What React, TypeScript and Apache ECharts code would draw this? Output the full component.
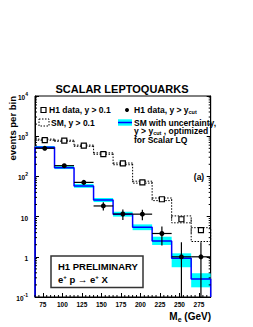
import React, { useEffect, useRef } from 'react';
import * as echarts from 'echarts';

// ---- data ----
const binEdges = [65, 90, 115, 140, 165, 190, 215, 240, 265, 290];
const binCenters = [77.5, 102.5, 127.5, 152.5, 177.5, 202.5, 227.5, 252.5, 277.5];
// H1 data, y > 0.1 (open squares)
const dataAll = [800, 780, 580, 360, 212, 71, 27, 8.6, 4.6];
// SM, y > 0.1 (dotted boxes)
const smAll = [820, 770, 580, 370, 205, 72, 27, 8.5, 3.6];
const smAllLo = [795, 745, 560, 355, 195, 68, 25, 7.0, 2.4];
const smAllHi = [845, 795, 600, 385, 215, 76, 29, 10.4, 5.3];
// H1 data, y > ycut (filled circles)
const dataCut = [500, 185, 71, 18.4, 11.6, 11.5, 3.8, 1, 1];
const dataCutLo = [478, 171, 63, 14.1, 8.2, 8.1, 1.9, 0.02, 0.02];
const dataCutHi = [522, 199, 79.5, 22.7, 15, 14.9, 5.7, 2.3, 2.3];
// SM with uncertainty, y > ycut (blue line, cyan band)
const smCut = [530, 165, 58, 26, 11.5, 5.4, 2.47, 0.92, 0.28];
const smCutLo = [490, 152, 52, 23, 10, 4.6, 1.97, 0.55, 0.174];
const smCutHi = [570, 180, 65, 29, 13.2, 6.4, 3.16, 1.22, 0.39];
// axis ticks
const xTickLabels = [75, 100, 125, 150, 175, 200, 225, 250, 275];
const xMinorTicks = [65, 70, 80, 85, 90, 95, 105, 110, 115, 120, 130, 135, 140, 145, 155, 160, 165, 170, 180, 185, 190, 195, 205, 210, 215, 220, 230, 235, 240, 245, 255, 260, 265, 270, 280, 285];
const yDecades = [0.1, 1, 10, 100, 1000, 10000];
const yMinorMantissa = [2, 3, 4, 5, 6, 7, 8, 9];

const FONT = '"Liberation Sans", Arial, Helvetica, sans-serif';
const X_MIN = 65;
const X_MAX = 290;
const Y_MIN = 0.1;
const Y_MAX = 10000;

export default function App() {
  const ref = useRef<HTMLDivElement>(null);
  useEffect(() => {
    const chart = echarts.init(ref.current!, null, { renderer: 'svg' });

    const stepPts: number[][] = [[binEdges[0], Y_MIN]];
    smCut.forEach((v, i) => {
      stepPts.push([binEdges[i], v]);
      stepPts.push([binEdges[i + 1], v]);
    });
    stepPts.push([binEdges[binEdges.length - 1], Y_MIN]);

    const yMinor: number[] = [];
    yDecades.slice(0, -1).forEach((d) => yMinorMantissa.forEach((m) => yMinor.push(d * m)));

    const ylabel = (v: number) => {
      const e = Math.round(Math.log10(v));
      if (e === 0) return '{b|1}';
      if (e === 1) return '{b|10}';
      return `{b|10}{s|${e}}`;
    };

    const sub = { fontSize: 5.5, fontWeight: 'bold', fontFamily: FONT, verticalAlign: 'bottom', lineHeight: 9 };
    const main = { fontSize: 8.5, fontWeight: 'bold', fontFamily: FONT, lineHeight: 9 };

    const option: any = {
      animation: false,
      backgroundColor: '#fff',
      grid: { left: 35, right: 42.3, top: 96, bottom: 30, show: true, borderColor: '#000', borderWidth: 1 },
      xAxis: {
        type: 'value', min: X_MIN, max: X_MAX,
        axisLine: { show: true, lineStyle: { color: '#000', width: 1 } },
        axisTick: { show: true, inside: true, length: 4, customValues: xTickLabels, lineStyle: { color: '#000' } },
        axisLabel: { customValues: xTickLabels, fontSize: 6.5, fontWeight: 'bold', fontFamily: FONT, color: '#000', margin: 4 },
        splitLine: { show: false },
      },
      yAxis: [
        {
          type: 'log', logBase: 10, min: Y_MIN, max: Y_MAX, position: 'left',
          axisLine: { show: true, lineStyle: { color: '#000', width: 1 } },
          axisTick: { show: true, inside: true, length: 4, lineStyle: { color: '#000' } },
          axisLabel: {
            formatter: ylabel, margin: 7, color: '#000',
            rich: {
              b: { fontSize: 6.5, fontWeight: 'bold', fontFamily: FONT, lineHeight: 10, verticalAlign: 'bottom', color: '#000' },
              s: { fontSize: 5, fontWeight: 'bold', fontFamily: FONT, lineHeight: 10, verticalAlign: 'top', color: '#000' },
            },
          },
          splitLine: { show: false },
        },
        {
          type: 'log', logBase: 10, min: Y_MIN, max: Y_MAX, position: 'right',
          axisLine: { show: true, lineStyle: { color: '#000', width: 1 } },
          axisTick: { show: true, inside: true, length: 4, lineStyle: { color: '#000' } },
          axisLabel: { show: false },
          splitLine: { show: false },
        },
      ],
      series: [
        {
          type: 'custom', name: 'smCutBand', z: 2, silent: true,
          data: binCenters.map((c, i) => [c, smCut[i]]),
          encode: { x: 0, y: 1 },
          renderItem: (params: any, api: any) => {
            const i = params.dataIndex;
            const p0 = api.coord([binEdges[i], smCutHi[i]]);
            const p1 = api.coord([binEdges[i + 1], Math.max(smCutLo[i], Y_MIN)]);
            return { type: 'rect', shape: { x: p0[0], y: p0[1], width: p1[0] - p0[0], height: p1[1] - p0[1] }, style: { fill: '#00ffff' } };
          },
        },
        {
          type: 'line', name: 'smCut', z: 3, silent: true, symbol: 'none',
          data: stepPts,
          lineStyle: { color: '#0000ff', width: 1.5 },
        },
        {
          type: 'custom', name: 'smAll', z: 4, silent: true,
          data: binCenters.map((c, i) => [c, smAll[i]]),
          encode: { x: 0, y: 1 },
          renderItem: (params: any, api: any) => {
            const i = params.dataIndex;
            const p0 = api.coord([binEdges[i], smAllHi[i]]);
            const p1 = api.coord([binEdges[i + 1], smAllLo[i]]);
            const st = { fill: 'none', stroke: '#000', lineWidth: 1, lineDash: [1.5, 1.5] };
            const children: any[] = [
              { type: 'rect', shape: { x: p0[0], y: p0[1], width: p1[0] - p0[0], height: p1[1] - p0[1] }, style: st },
            ];
            if (i > 0) {
              const a = api.coord([binEdges[i], smAll[i - 1]]);
              const b = api.coord([binEdges[i], smAll[i]]);
              children.push({ type: 'line', shape: { x1: a[0], y1: a[1], x2: b[0], y2: b[1] }, style: st });
            }
            return { type: 'group', children };
          },
        },
        {
          type: 'custom', name: 'errCut', z: 5, silent: true,
          data: binCenters.map((c, i) => [c, dataCut[i]]),
          encode: { x: 0, y: 1 },
          renderItem: (params: any, api: any) => {
            const i = params.dataIndex;
            const l = api.coord([binEdges[i], dataCut[i]]);
            const r = api.coord([binEdges[i + 1], dataCut[i]]);
            const hi = api.coord([binCenters[i], dataCutHi[i]]);
            const lo = api.coord([binCenters[i], Math.max(dataCutLo[i], Y_MIN)]);
            const st = { stroke: '#000', lineWidth: 1.2 };
            return {
              type: 'group',
              children: [
                { type: 'line', shape: { x1: l[0], y1: l[1], x2: r[0], y2: r[1] }, style: st },
                { type: 'line', shape: { x1: hi[0], y1: hi[1], x2: lo[0], y2: lo[1] }, style: st },
              ],
            };
          },
        },
        {
          type: 'scatter', name: 'dataAll', z: 6, silent: true,
          data: binCenters.map((c, i) => [c, dataAll[i]]),
          symbol: 'rect', symbolSize: 5,
          itemStyle: { color: '#fff', borderColor: '#000', borderWidth: 1.2, opacity: 1 },
        },
        {
          type: 'scatter', name: 'dataCut', z: 6, silent: true,
          data: binCenters.map((c, i) => [c, dataCut[i]]),
          symbol: 'circle', symbolSize: 5,
          itemStyle: { color: '#000', opacity: 1 },
        },
        {
          type: 'custom', name: 'yMinorTicks', z: 7, silent: true,
          data: yMinor.map((v) => [X_MIN, v]),
          encode: { x: 0, y: 1 },
          renderItem: (params: any, api: any) => {
            const v = api.value(1);
            const pl = api.coord([X_MIN, v]);
            const pr = api.coord([X_MAX, v]);
            const st = { stroke: '#000', lineWidth: 1 };
            return {
              type: 'group',
              children: [
                { type: 'line', shape: { x1: pl[0], y1: pl[1], x2: pl[0] + 2, y2: pl[1] }, style: st },
                { type: 'line', shape: { x1: pr[0] - 2, y1: pr[1], x2: pr[0], y2: pr[1] }, style: st },
              ],
            };
          },
        },
        {
          type: 'custom', name: 'xMinorTicks', z: 7, silent: true,
          data: xMinorTicks.map((x) => [x, Y_MIN]),
          encode: { x: 0, y: 1 },
          renderItem: (params: any, api: any) => {
            const p = api.coord([api.value(0), Y_MIN]);
            return { type: 'line', shape: { x1: p[0], y1: p[1], x2: p[0], y2: p[1] - 2 }, style: { stroke: '#000', lineWidth: 1 } };
          },
        },
      ],
      graphic: [
        { type: 'text', x: 122, y: 89, style: { text: 'SCALAR LEPTOQUARKS', fontSize: 11, fontWeight: 'bold', fontFamily: FONT, fill: '#000', align: 'center', verticalAlign: 'middle' } },
        { type: 'text', x: 12, y: 96, rotation: Math.PI / 2, style: { text: 'events per bin', fontSize: 9.5, fontWeight: 'bold', fontFamily: FONT, fill: '#000', align: 'right', verticalAlign: 'middle' } },
        { type: 'text', x: 211, y: 316, style: { text: 'M{s|e} (GeV)', fontSize: 10, fontWeight: 'bold', fontFamily: FONT, fill: '#000', align: 'right', verticalAlign: 'middle', rich: { s: { fontSize: 7, fontWeight: 'bold', fontFamily: FONT, verticalAlign: 'bottom', lineHeight: 14 } } } },
        // legend left column
        { type: 'rect', shape: { x: 41, y: 107.5, width: 5, height: 5 }, style: { fill: '#fff', stroke: '#000', lineWidth: 1.2 } },
        { type: 'text', x: 49, y: 110, style: { text: 'H1 data, y > 0.1', fontSize: 8.5, fontWeight: 'bold', fontFamily: FONT, fill: '#000', align: 'left', verticalAlign: 'middle' } },
        { type: 'rect', shape: { x: 39, y: 119, width: 10, height: 7 }, style: { fill: 'none', stroke: '#000', lineWidth: 1, lineDash: [1.5, 1.5] } },
        { type: 'text', x: 51, y: 122.5, style: { text: 'SM, y > 0.1', fontSize: 8.5, fontWeight: 'bold', fontFamily: FONT, fill: '#000', align: 'left', verticalAlign: 'middle' } },
        // legend right column
        { type: 'circle', shape: { cx: 127, cy: 110, r: 2 }, style: { fill: '#000' } },
        { type: 'text', x: 134, y: 110, style: { text: 'H1 data, y > y{s|cut}', fill: '#000', align: 'left', verticalAlign: 'middle', ...main, rich: { s: sub } } },
        { type: 'rect', shape: { x: 118, y: 119.3, width: 14, height: 6.4 }, style: { fill: '#00ffff' } },
        { type: 'line', shape: { x1: 118, y1: 122.5, x2: 132, y2: 122.5 }, style: { stroke: '#0000ff', lineWidth: 1.5 } },
        { type: 'text', x: 134, y: 122.5, style: { text: 'SM with uncertainty,', fontSize: 8.5, fontWeight: 'bold', fontFamily: FONT, fill: '#000', align: 'left', verticalAlign: 'middle' } },
        { type: 'text', x: 134, y: 131, style: { text: 'y > y{s|cut} , optimized', fill: '#000', align: 'left', verticalAlign: 'middle', ...main, rich: { s: sub } } },
        { type: 'text', x: 134, y: 139.5, style: { text: 'for Scalar LQ', fontSize: 8.5, fontWeight: 'bold', fontFamily: FONT, fill: '#000', align: 'left', verticalAlign: 'middle' } },
        // (a)
        { type: 'text', x: 199, y: 177, style: { text: '(a)', fontSize: 8.5, fontWeight: 'bold', fontFamily: FONT, fill: '#000', align: 'center', verticalAlign: 'middle' } },
        // H1 preliminary box
        { type: 'rect', shape: { x: 51, y: 256, width: 92, height: 31.5 }, style: { fill: '#fff', stroke: '#333', lineWidth: 1.5 }, z: 10 },
        { type: 'text', x: 58, y: 266, z: 11, style: { text: 'H1 PRELIMINARY', fontSize: 9.5, fontWeight: 'bold', fontFamily: FONT, fill: '#000', align: 'left', verticalAlign: 'middle' } },
        { type: 'text', x: 58, y: 279.5, z: 11, style: { text: 'e{p|+} p \u2192 e{p|+} X', fontSize: 9.5, fontWeight: 'bold', fontFamily: FONT, fill: '#000', align: 'left', verticalAlign: 'middle', lineHeight: 12, rich: { p: { fontSize: 6, fontWeight: 'bold', fontFamily: FONT, verticalAlign: 'top', lineHeight: 12 } } } },
      ],
    };

    chart.setOption(option);
    return () => chart.dispose();
  }, []);
  return <div ref={ref} style={{ position: 'fixed', left: 0, top: 0, width: 253, height: 327, background: '#fff' }} />;
}
